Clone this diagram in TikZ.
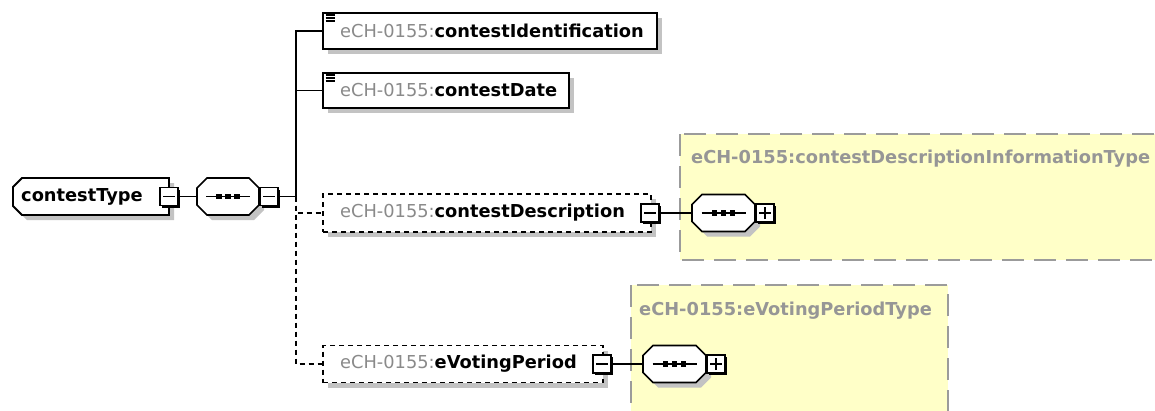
\documentclass[tikz,border=0pt]{standalone}
\usepackage{fontspec}
\setmainfont{DejaVu Sans}
\usetikzlibrary{shadows}
\definecolor{pregray}{RGB}{138,138,138}
\definecolor{lblgray}{RGB}{150,150,150}
\definecolor{ylw}{RGB}{255,255,200}
\definecolor{ylwborder}{RGB}{155,155,155}
\definecolor{shgray}{RGB}{195,195,195}
\newcommand{\octo}[1]{%
  \path[draw=black, fill=white, line width=1.7pt, shadowed]
    ([xshift=10pt]#1.north west) -- ([xshift=-10pt]#1.north east) -- ([yshift=-10pt]#1.north east)
    -- ([yshift=10pt]#1.south east) -- ([xshift=-10pt]#1.south east) -- ([xshift=10pt]#1.south west)
    -- ([yshift=10pt]#1.south west) -- ([yshift=-10pt]#1.north west) -- cycle;
  \draw[line width=1.4pt] ([xshift=-22pt]#1.center) -- ([xshift=22pt]#1.center);
  \fill ([xshift=-9pt]#1.center) ++(-2.8pt,-2.8pt) rectangle ++(5.6pt,5.6pt);
  \fill (#1.center) ++(-2.8pt,-2.8pt) rectangle ++(5.6pt,5.6pt);
  \fill ([xshift=9pt]#1.center) ++(-2.8pt,-2.8pt) rectangle ++(5.6pt,5.6pt);
}
\newcommand{\minussign}[1]{\draw[line width=1.4pt] ([xshift=-6pt]#1.center) -- ([xshift=6pt]#1.center);}
\newcommand{\plussign}[1]{\minussign{#1}\draw[line width=1.4pt] ([yshift=-6pt]#1.center) -- ([yshift=6pt]#1.center);}
\newcommand{\elemicon}[1]{%
  \draw[line width=1.3pt] ([shift={(3.5pt,-3pt)}]#1.north west) -- ++(9pt,0pt);
  \draw[line width=1.3pt] ([shift={(3.5pt,-6pt)}]#1.north west) -- ++(9pt,0pt);
  \draw[line width=1.3pt] ([shift={(3.5pt,-9pt)}]#1.north west) -- ++(9pt,0pt);
}
\begin{document}
\begin{tikzpicture}[x=1pt,y=-1pt,
  conn/.style={line width=1.8pt, draw=black},
  dconn/.style={conn, dash pattern=on 5pt off 4pt},
  shadowed/.style={drop shadow={shadow xshift=5pt, shadow yshift=-5pt, fill=shgray, opacity=1}},
  geom/.style={inner sep=0pt, outer sep=0pt},
  elembox/.style={draw, fill=white, line width=1.8pt, shadowed, inner sep=0pt},
  optbox/.style={elembox, dash pattern=on 5pt off 4pt},
  txt/.style={inner sep=0pt, anchor=west, font=\fontsize{17.8}{20}\selectfont},
  ybox/.style={fill=ylw, draw=ylwborder, line width=2pt, dash pattern=on 22pt off 10pt},
  tog/.style={draw, fill=white, line width=1.5pt, minimum size=18pt, inner sep=0pt,
    drop shadow={shadow xshift=2pt, shadow yshift=-2pt, fill=black, opacity=1}},
]
\useasboundingbox (0,0) rectangle (1155,410);
\clip (0,0) rectangle (1155,410);

% type areas
\path[ybox] (680,134) rectangle (1175,260);
\path[ybox] (631,285) rectangle (948,430);
\node[txt, text=lblgray] (lbl1) at (691,159) {\bfseries eCH-0155:contestDescriptionInformationType};
\node[txt, text=lblgray] (lbl2) at (639,311) {\bfseries eCH-0155:eVotingPeriodType};

% root
\node[geom, minimum width=156pt, minimum height=37pt] (ctype) at (91,196.5) {};
\path[draw=black, fill=white, line width=1.8pt, shadowed]
  ([xshift=9pt]ctype.north west) -- (ctype.north east) -- (ctype.south east)
  -- ([xshift=9pt]ctype.south west) -- ([yshift=9pt]ctype.south west)
  -- ([yshift=-9pt]ctype.north west) -- cycle;
\node[txt] (ctypetxt) at (21,196.5) {\bfseries contestType};

% main sequence
\node[geom, minimum width=62pt, minimum height=37pt] (seq0) at (228,196.5) {};
\octo{seq0}

% children
\node[elembox, minimum width=334pt, minimum height=36pt] (cid) at (490,31) {};
\elemicon{cid}
\node[txt] (cidtxt) at (340,31) {{\color{pregray}eCH-0155:}\bfseries contestIdentification};

\node[elembox, minimum width=246pt, minimum height=35pt] (cdate) at (446,90.5) {};
\elemicon{cdate}
\node[txt] (cdatetxt) at (340,90.5) {{\color{pregray}eCH-0155:}\bfseries contestDate};

\node[optbox, minimum width=328pt, minimum height=38pt] (cdesc) at (487,213) {};
\node[txt] (cdesctxt) at (340,213) {{\color{pregray}eCH-0155:}\bfseries contestDescription};

\node[optbox, minimum width=280pt, minimum height=37pt] (evp) at (463,364) {};
\node[txt] (evptxt) at (340,364) {{\color{pregray}eCH-0155:}\bfseries eVotingPeriod};

% nested sequences
\node[geom, minimum width=63pt, minimum height=37pt] (seq1) at (723.5,213) {};
\octo{seq1}
\node[geom, minimum width=63pt, minimum height=37pt] (seq2) at (674.5,364) {};
\octo{seq2}

% toggles
\node[tog] (ctypem) at (169,196.5) {}; \minussign{ctypem}
\node[tog] (seq0m) at (269,196.5) {}; \minussign{seq0m}
\node[tog] (cdescm) at (650,213) {}; \minussign{cdescm}
\node[tog] (evpm) at (602,364) {}; \minussign{evpm}
\node[tog] (seq1p) at (765,213) {}; \plussign{seq1p}
\node[tog] (seq2p) at (716,364) {}; \plussign{seq2p}

% connectors
\coordinate (trunk) at (296,196.5);
\draw[conn] (ctypem.east) -- (seq0.west);
\draw[conn] (seq0m.east) -- (trunk);
\draw[conn] (trunk) |- (cid.west);
\draw[conn] (trunk) |- (cdate.west);
\draw[dconn] (trunk) |- (cdesc.west);
\draw[dconn] (trunk) |- (evp.west);
\draw[conn] (cdescm.east) -- (seq1.west);
\draw[conn] (evpm.east) -- (seq2.west);
\end{tikzpicture}
\end{document}
